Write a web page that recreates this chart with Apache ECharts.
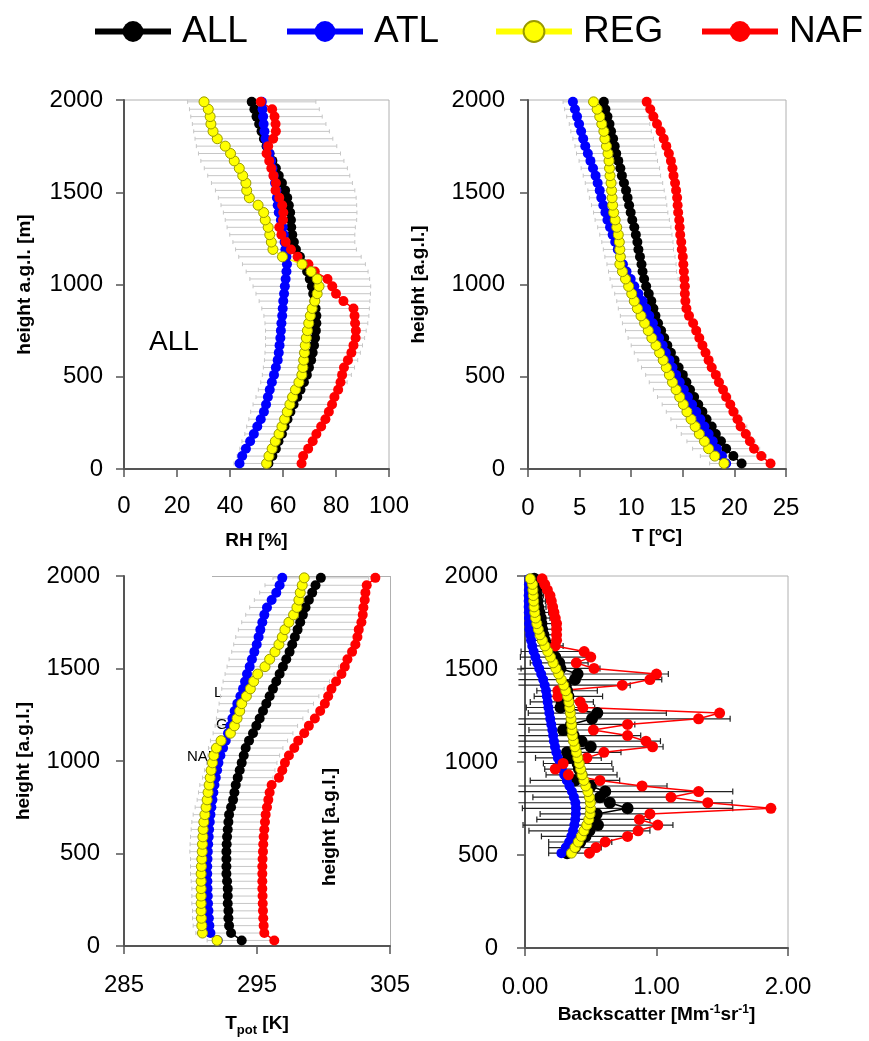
<!DOCTYPE html>
<html>
<head>
<meta charset="utf-8">
<script src="https://cdn.jsdelivr.net/npm/echarts@6/dist/echarts.min.js"></script>
<style>
  html, body { margin: 0; padding: 0; background: #fff; }
  #chart { width: 869px; height: 1041px; }
</style>
</head>
<body>
<div id="chart"></div>
<script>
// heights of the profile levels (m a.g.l.)
const heights = [30,70,110,150,190,230,270,310,350,390,430,470,510,550,590,630,670,710,750,790,
  830,870,910,950,990,1030,1070,1110,1150,1190,1230,1270,1310,1350,1390,1430,1470,1510,1550,1590,
  1630,1670,1710,1750,1790,1830,1870,1910,1950,1990]

// relative humidity [%]
const rhAll = [54.5,56,57.3,58.3,59.6,60.6,61.7,62.8,64,65.4,66.6,67.9,69,69.8,70.6,71.2,71.7,72.1,72.4,72.6,
  72.6,72.3,71.9,71.4,70.9,70.1,69.1,67.9,66.4,64.9,64.1,63.5,63.1,63,62.7,62.2,61.6,60.8,59.6,58.4,
  57.3,56,54.9,53.8,52.8,51.9,51,50,49.2,48.2]
const rhAtl = [43.6,44.6,46,47.6,49,50.3,51.6,52.8,53.6,54.3,55,55.8,56.6,57.3,58,58.4,58.7,59,59.2,59.4,
  59.7,59.9,60.1,60.4,60.7,61,61.3,61.5,61.3,60.9,60.6,60.3,59.9,59.2,58.4,58,57.7,57.5,57,56.5,
  56,55.5,54.9,54.1,53.4,53,52.7,52.5,52.3,52]
const rhReg = [53.8,54.7,55.9,57.1,58.5,59.6,60.6,61.6,62.6,63.6,64.7,66,67.1,67.5,67.8,68.1,68.4,68.8,69.2,69.7,
  70.3,71,72,72.9,73.6,72.9,70.6,67.2,59.8,56.2,55.6,55,54.4,53.3,52.7,50.6,47.3,46.3,46,44.8,
  43.5,41.6,40.2,38.2,35.2,33.6,32.8,32.5,31.8,30.2]
const rhNaf = [67,67.6,69.5,71.2,72.6,74.4,76,77.3,78.5,79.4,80.8,81.7,82.3,83,84.5,85.8,86.6,87.4,87.5,87.2,
  87,86.6,82.8,80,78.6,76.8,72,69.6,65.5,63,61,59.4,58.6,60,60.1,59.7,58.6,57.2,57.3,56.4,
  55.6,54.8,53.8,54.4,56.3,57.3,57.2,56.8,55.9,51.6]
const rhSd = [13,13.3,13.6,13.8,14,14.3,14.6,15,15.3,15.6,15.9,16.3,16.8,17.2,17.6,18,18.3,18.7,19,19.4,
  19.8,20.3,20.9,21.6,22.2,22.6,23,23.2,23.1,22.8,23,23.6,24.2,24.8,25.2,25.6,26,26.3,26.6,26.8,
  27,27,26.8,26.5,26,25.6,25.2,24.8,24.5,24.2]

// temperature [ºC]
const tAll = [20.7,19.9,19.2,18.7,18.2,17.8,17.3,16.9,16.5,16.1,15.7,15.35,15,14.6,14.2,13.85,13.5,13.2,12.9,12.6,
  12.35,12.15,11.95,11.7,11.45,11.25,11.1,11,10.85,10.7,10.6,10.45,10.3,10.1,9.95,9.8,9.65,9.5,9.3,9.1,
  8.95,8.75,8.55,8.4,8.25,8.05,7.9,7.7,7.5,7.35]
const tAtl = [19.2,18.8,18.3,17.9,17.5,17.1,16.7,16.3,15.9,15.5,15.1,14.7,14.35,14,13.7,13.35,13.05,12.7,12.4,12.1,
  11.75,11.45,11.1,10.7,10.3,9.95,9.55,9.2,8.95,8.7,8.45,8.2,7.95,7.7,7.5,7.3,7.1,6.95,6.75,6.55,
  6.3,6.05,5.8,5.55,5.35,5.15,4.95,4.75,4.55,4.35]
const tReg = [19,18.1,17.5,17.1,16.6,16.2,15.8,15.4,15.05,14.7,14.35,14,13.7,13.4,13.1,12.75,12.4,12,11.65,11.3,
  10.95,10.6,10.3,10.05,9.75,9.45,9.15,8.9,8.95,8.9,8.85,8.75,8.6,8.45,8.3,8.2,8.15,8.1,8.05,7.95,
  7.9,7.85,7.75,7.6,7.45,7.35,7.15,6.95,6.7,6.35]
const tNaf = [23.5,22.6,21.9,21.5,21.1,20.6,20.3,19.9,19.6,19.2,18.9,18.5,18.2,17.8,17.5,17.2,16.9,16.6,16.3,16,
  15.6,15.35,15.25,15.2,15.2,15.15,15.1,15.05,15,14.9,14.85,14.75,14.7,14.65,14.55,14.5,14.45,14.35,14.25,14.1,
  14,13.85,13.65,13.4,13.15,12.85,12.5,12.15,11.85,11.5]
const tSd = [3.1,3.2,3.25,3.3,3.35,3.4,3.45,3.5,3.5,3.55,3.55,3.6,3.6,3.6,3.55,3.55,3.5,3.5,3.45,3.45,
  3.4,3.4,3.35,3.3,3.3,3.3,3.3,3.35,3.4,3.4,3.45,3.5,3.55,3.6,3.6,3.65,3.7,3.7,3.75,3.75,
  3.8,3.8,3.85,3.85,3.9,3.9,3.9,3.95,3.95,3.95]

// potential temperature [K]
const tpAll = [293.85,293.05,292.9,292.85,292.85,292.8,292.8,292.8,292.75,292.7,292.7,292.7,292.7,292.72,292.75,292.8,292.85,292.9,293.05,293.2,
  293.3,293.4,293.55,293.7,293.85,294,294.15,294.4,294.7,294.95,295.2,295.45,295.7,295.95,296.2,296.45,296.7,296.95,297.2,297.45,
  297.65,297.85,298.05,298.25,298.45,298.65,298.9,299.15,299.4,299.8]
const tpAtl = [292.05,291.5,291.42,291.38,291.35,291.32,291.3,291.28,291.27,291.26,291.26,291.28,291.3,291.33,291.37,291.4,291.45,291.5,291.57,291.65,
  291.72,291.8,291.9,292,292.1,292.25,292.45,292.65,292.82,293,293.15,293.32,293.52,293.75,293.95,294.1,294.25,294.45,294.62,294.8,
  294.98,295.12,295.25,295.4,295.55,295.75,296.1,296.45,296.7,296.9]
const tpReg = [292,290.9,290.85,290.82,290.8,290.8,290.8,290.8,290.8,290.8,290.82,290.85,290.88,290.9,290.93,290.95,291,291.08,291.17,291.25,
  291.32,291.4,291.48,291.55,291.65,291.75,291.95,292.3,293,293.3,293.5,293.7,293.85,294.2,294.5,294.75,295.05,295.6,295.95,296.35,
  296.65,296.9,297.1,297.4,297.75,298,298.15,298.25,298.4,298.55]
const tpNaf = [296.3,295.55,295.5,295.47,295.45,295.43,295.42,295.4,295.4,295.4,295.4,295.42,295.45,295.47,295.5,295.55,295.6,295.65,295.75,295.85,
  295.95,296.1,296.65,296.9,297.1,297.4,297.8,298.1,298.55,298.9,299.35,299.75,300.1,300.35,300.6,300.95,301.35,301.6,301.8,302.15,
  302.4,302.55,302.65,302.85,302.95,303,303.1,303.15,303.25,303.9]
const tpSd = [2.6,2.65,2.7,2.7,2.7,2.7,2.7,2.7,2.7,2.7,2.7,2.7,2.75,2.75,2.75,2.75,2.75,2.7,2.7,2.7,
  2.7,2.7,2.65,2.65,2.65,2.7,2.8,2.9,3,3.1,3.25,3.4,3.55,3.7,3.85,4,4.1,4.2,4.3,4.35,
  4.4,4.45,4.45,4.4,4.3,4.2,4.1,3.95,3.8,3.6]

// backscatter [Mm-1 sr-1], levels from 510 m
const bsHeights = [510,540,570,600,630,661,691,721,751,781,811,841,871,901,931,962,992,1022,1052,1082,
  1112,1142,1172,1202,1232,1263,1293,1323,1353,1383,1413,1443,1473,1503,1533,1564,1594,1624,1654,1684,
  1714,1744,1774,1804,1834,1865,1895,1925,1955,1985]
const bsAll = [0.32,0.38,0.42,0.46,0.49,0.555,0.52,0.545,0.78,0.645,0.57,0.61,0.5,0.38,0.43,0.41,0.4,0.33,0.32,0.5,
  0.43,0.37,0.29,0.35,0.51,0.55,0.27,0.28,0.33,0.32,0.31,0.38,0.4,0.27,0.26,0.23,0.2,0.17,0.15,0.14,
  0.13,0.125,0.12,0.11,0.1,0.095,0.09,0.085,0.08,0.07]
const bsAtl = [0.277,0.31,0.335,0.352,0.365,0.375,0.382,0.386,0.387,0.383,0.372,0.357,0.338,0.318,0.298,0.28,0.264,0.25,0.238,0.228,
  0.22,0.214,0.208,0.2,0.192,0.185,0.178,0.172,0.166,0.16,0.15,0.138,0.123,0.108,0.093,0.079,0.066,0.055,0.046,0.039,
  0.034,0.031,0.03,0.029,0.028,0.028,0.028,0.029,0.03,0.032]
const bsReg = [0.353,0.38,0.405,0.428,0.448,0.47,0.485,0.495,0.498,0.497,0.49,0.478,0.462,0.448,0.434,0.423,0.413,0.402,0.391,0.38,
  0.369,0.362,0.358,0.354,0.35,0.345,0.34,0.334,0.324,0.31,0.295,0.276,0.256,0.235,0.214,0.194,0.173,0.152,0.132,0.114,
  0.101,0.09,0.081,0.074,0.069,0.066,0.063,0.06,0.057,0.04]
const bsNaf = [0.49,0.54,0.61,0.78,0.86,1.01,0.87,0.95,1.87,1.39,1.11,1.32,0.89,0.57,0.33,0.23,0.29,0.47,0.6,0.97,
  0.92,0.78,0.52,0.78,1.32,1.48,0.44,0.42,0.25,0.25,0.74,0.95,1.0,0.525,0.39,0.5,0.45,0.23,0.24,0.24,
  0.24,0.24,0.23,0.22,0.21,0.2,0.19,0.17,0.15,0.13]
const bsSd = [0.14,0.2,0.24,0.335,0.46,0.57,0.43,0.43,0.8,0.93,0.51,0.97,0.58,0.34,0.27,0.26,0.26,0.25,0.41,0.55,
  0.6,0.51,0.26,0.485,1.05,0.525,0.26,0.24,0.26,0.23,0.49,0.66,0.69,0.3,0.22,0.265,0.23,0.12,0.11,0.1,
  0.09,0.08,0.07,0.07,0.06,0.06,0.05,0.05,0.05,0.04]

const groups = ['ALL', 'ATL', 'REG', 'NAF']

const FONT = '"Liberation Sans", Arial, sans-serif'
const AXIS = '#555'
const COLORS = {ALL: '#000000', ATL: '#0000ff', REG: '#ffff00', NAF: '#ff0000'}
const REG_EDGE = '#9a9a00'

function pts(vals, hs){
  return vals.map((v, i) => [v, hs[i]])
}
function spread(mean, sd, hs){
  return mean.map((m, i) => [m - sd[i], m + sd[i], hs[i]])
}

// horizontal error bar with end caps
function barRenderer(color, width, cap, minX){
  return function(params, api){
    const lo = api.value(0), hi = api.value(1), h = api.value(2)
    const cut = minX != null && lo < minX
    const a = api.coord([cut ? minX : lo, h])
    const b = api.coord([hi, h])
    const st = {stroke: color, lineWidth: width}
    const kids = [
      {type: 'line', shape: {x1: a[0], y1: a[1], x2: b[0], y2: b[1]}, style: st},
      {type: 'line', shape: {x1: b[0], y1: b[1] - cap, x2: b[0], y2: b[1] + cap}, style: st}
    ]
    if(!cut) kids.push({type: 'line', shape: {x1: a[0], y1: a[1] - cap, x2: a[0], y2: a[1] + cap}, style: st})
    return {type: 'group', children: kids}
  }
}

function barSeries(gi, mean, sd, hs, color, width, cap, minX){
  return {
    type: 'custom', xAxisIndex: gi, yAxisIndex: gi, z: 1, silent: true,
    renderItem: barRenderer(color, width, cap, minX),
    encode: {x: [0, 1], y: 2},
    data: spread(mean, sd, hs)
  }
}

function profile(gi, name, vals, hs, size){
  const c = COLORS[name]
  return {
    type: 'line', name, xAxisIndex: gi, yAxisIndex: gi,
    data: pts(vals, hs),
    symbol: 'circle', symbolSize: size, showSymbol: true,
    lineStyle: {color: c, width: 1.5},
    itemStyle: name === 'REG' ? {color: c, borderColor: REG_EDGE, borderWidth: 1} : {color: c},
    emphasis: {disabled: true}
  }
}

function yAx(gi, margin, name, gap){
  return {
    type: 'value', gridIndex: gi, min: 0, max: 2000, interval: 500,
    splitLine: {show: false},
    axisLine: {show: true, lineStyle: {color: AXIS, width: 2}},
    axisTick: {show: true, length: 8, lineStyle: {color: AXIS, width: 1.5}},
    axisLabel: {margin, fontSize: 24, fontFamily: FONT, color: '#000', formatter: v => String(v)},
    name: name || '', nameLocation: 'middle', nameRotate: 90, nameGap: gap || 0,
    nameTextStyle: {fontSize: 19, fontWeight: 'bold', fontFamily: FONT, color: '#000'}
  }
}

function xAx(gi, min, max, interval, margin, name, gap, extra){
  return Object.assign({
    type: 'value', gridIndex: gi, min, max, interval,
    splitLine: {show: false},
    axisLine: {show: true, onZero: false, lineStyle: {color: AXIS, width: 2}},
    axisTick: {show: true, length: 8, lineStyle: {color: AXIS, width: 1.5}},
    axisLabel: {margin, fontSize: 24, fontFamily: FONT, color: '#000', formatter: v => String(v)},
    name, nameLocation: 'middle', nameGap: gap,
    nameTextStyle: {fontSize: 19, fontWeight: 'bold', fontFamily: FONT, color: '#000'}
  }, extra || {})
}

const gridBox = {show: true, borderColor: '#b0b0b0', borderWidth: 1}

const legendBase = {
  orient: 'horizontal', top: 8, itemWidth: 76, itemHeight: 26, selectedMode: false,
  lineStyle: {width: 6},
  textStyle: {fontSize: 37, fontFamily: FONT, color: '#000', padding: [0, 0, 0, 6]}
}
const legendLeft = [87, 279, 488, 694]

let option = {
  animation: false,
  backgroundColor: '#ffffff',
  legend: groups.map((g, i) => Object.assign({}, legendBase, {data: [g], left: legendLeft[i]})),
  grid: [
    Object.assign({left: 124, top: 100, width: 265, height: 369}, gridBox),
    Object.assign({left: 528, top: 100, width: 258, height: 369}, gridBox),
    {left: 124, top: 576, width: 266, height: 370, show: false},
    Object.assign({left: 525, top: 576, width: 263, height: 372}, gridBox)
  ],
  xAxis: [
    xAx(0, 0, 100, 20, 25, 'RH [%]', 62),
    xAx(1, 0, 25, 5, 27, 'T [ºC]', 58),
    xAx(2, 285, 305, 10, 27, '{a|T}{b|pot}{a| [K]}', 64, {
      nameTextStyle: {fontFamily: FONT, color: '#000', rich: {
        a: {fontSize: 19, fontWeight: 'bold', fontFamily: FONT, color: '#000'},
        b: {fontSize: 13, fontWeight: 'bold', fontFamily: FONT, color: '#000', padding: [14, 0, 0, 0]}
      }}
    }),
    xAx(3, 0, 2, 1, 27, '{a|Backscatter [Mm}{b|-1}{a|sr}{b|-1}{a|]}', 56, {
      nameTextStyle: {fontFamily: FONT, color: '#000', rich: {
        a: {fontSize: 19, fontWeight: 'bold', fontFamily: FONT, color: '#000'},
        b: {fontSize: 12, fontWeight: 'bold', fontFamily: FONT, color: '#000', padding: [0, 0, 9, 0]}
      }}
    })
  ],
  yAxis: [
    yAx(0, 21, 'height a.g.l. [m]', 90),
    yAx(1, 23, 'height [a.g.l.]', 100),
    yAx(2, 24, 'height [a.g.l.]', 91),
    yAx(3, 27)
  ],
  series: [],
  graphic: [
    {type: 'line', shape: {x1: 212, y1: 576.5, x2: 390, y2: 576.5}, style: {stroke: '#b0b0b0', lineWidth: 1}},
    {type: 'line', shape: {x1: 390.5, y1: 576, x2: 390.5, y2: 946}, style: {stroke: '#b0b0b0', lineWidth: 1}},
    {type: 'text', left: 149, top: 328, style: {text: 'ALL', font: '28px ' + FONT, fill: '#000'}},
    {type: 'text', left: 214, top: 685, style: {text: 'L', font: '15px ' + FONT, fill: '#000'}},
    {type: 'text', left: 216, top: 717, style: {text: 'G', font: '15px ' + FONT, fill: '#000'}},
    {type: 'text', left: 187, top: 749, style: {text: 'NAF', font: '15px ' + FONT, fill: '#000'}},
    {type: 'text', x: 330, y: 827, rotation: Math.PI / 2,
      style: {text: 'height [a.g.l.]', x: 0, y: 0, align: 'center', verticalAlign: 'middle', font: 'bold 19px ' + FONT, fill: '#000'}}
  ]
}

option.xAxis[3].axisLabel.formatter = v => v.toFixed(2)

// panel 1: RH
option.series.push(
  barSeries(0, rhAll, rhSd, heights, '#c6c6c6', 1, 2),
  profile(0, 'ALL', rhAll, heights, 10),
  profile(0, 'ATL', rhAtl, heights, 10),
  profile(0, 'NAF', rhNaf, heights, 10),
  profile(0, 'REG', rhReg, heights, 10)
)
// panel 2: T
option.series.push(
  barSeries(1, tAll, tSd, heights, '#c6c6c6', 1, 2),
  profile(1, 'ALL', tAll, heights, 10),
  profile(1, 'ATL', tAtl, heights, 10),
  profile(1, 'NAF', tNaf, heights, 10),
  profile(1, 'REG', tReg, heights, 10)
)
// panel 3: potential temperature
option.series.push(
  barSeries(2, tpAll, tpSd, heights, '#c6c6c6', 1, 2),
  profile(2, 'ALL', tpAll, heights, 10),
  profile(2, 'ATL', tpAtl, heights, 10),
  profile(2, 'NAF', tpNaf, heights, 10),
  profile(2, 'REG', tpReg, heights, 10)
)
// panel 4: backscatter
option.series.push(
  barSeries(3, bsAll, bsSd, bsHeights, '#222222', 1.2, 3, -0.05),
  profile(3, 'ALL', bsAll, bsHeights, 12),
  profile(3, 'ATL', bsAtl, bsHeights, 10),
  profile(3, 'NAF', bsNaf, bsHeights, 11),
  profile(3, 'REG', bsReg, bsHeights, 10)
)

let chart = echarts.init(document.getElementById('chart'), null, {renderer: 'canvas'})
chart.setOption(option)
</script>
</body>
</html>
